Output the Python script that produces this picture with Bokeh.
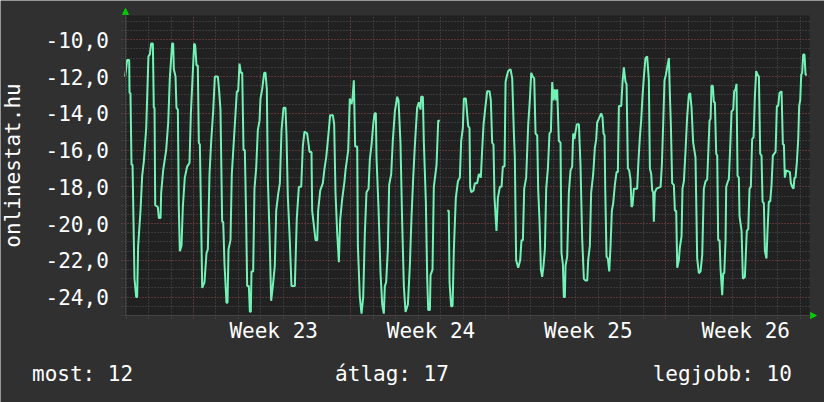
import math
from bokeh.plotting import figure
from bokeh.models import (Range1d, FixedTicker, Grid, Label, Arrow, NormalHead, BoxAnnotation)
from bokeh.core.properties import value
from bokeh.embed import file_html
from bokeh.resources import INLINE

# hours relative to the start of Week 23, and the measured value
hours = [
    -73.0, -70.8, -68.7, -68.3, -67.3, -66.2, -65.1, -63.0, -61.2, -60.2, -59.1, -56.6, -54.8, -53.0,
    -50.5, -48.1, -46.6, -45.2, -43.4, -42.4, -41.6, -40.9, -38.1, -37.0, -35.2, -34.5, -32.4, -29.2,
    -27.0, -25.3, -22.8, -21.7, -21.0, -19.2, -18.2, -16.7, -15.7, -14.6, -12.8, -11.4, -9.3, -6.8,
    -4.3, -2.8, 0.7, 1.8, 3.2, 4.6, 5.7, 6.8, 8.2, 9.3, 11.7, 13.9, 15.3, 17.1, 18.9, 21.0, 22.8,
    26.0, 27.4, 28.8, 30.6, 31.7, 33.1, 35.2, 36.3, 37.4, 39.5, 40.9,
    46.3, 47.7, 49.1, 50.5, 52.0, 53.4, 54.8, 56.2, 57.3, 59.1, 60.2, 61.2, 61.9, 63.7, 65.1, 66.9,
    68.7, 70.5, 71.5, 73.3, 75.5, 76.9, 78.3, 79.4, 81.2, 82.9, 84.7, 86.8, 88.3, 90.4, 92.2, 94.0,
    96.1, 98.2, 99.3, 100.7, 102.9, 104.6, 108.2, 110.3, 112.5, 115.0, 116.7, 118.5, 121.4, 123.9,
    126.0, 126.7, 128.5, 130.3, 132.1, 133.1, 135.3, 138.1, 139.9, 141.7, 143.8, 145.9, 148.8, 150.2,
    151.6, 153.4, 155.2, 156.6, 158.7, 161.2, 162.3, 165.2, 166.9, 168.7,
    169.8, 171.2, 172.6, 174.8, 175.5, 177.6, 179.4, 181.2, 182.9, 184.7, 186.9, 188.3, 190.1, 191.9,
    193.3, 194.7, 195.4, 197.5, 199.7, 201.5, 203.2, 204.3, 205.7, 207.5, 208.9, 211.1, 212.8, 215.0,
    217.5, 218.9, 221.0, 222.8, 224.6, 226.4, 228.9, 231.0, 232.8, 234.6, 236.3, 238.8, 240.6, 242.4,
    243.1, 244.9, 245.9, 248.1, 249.5, 250.6, 252.4, 253.1, 255.2, 256.6, 259.5, 261.3, 263.0,
    266.0,
    270.9, 272.6, 273.4, 275.1, 276.6, 278.0, 280.1, 282.3, 284.4, 285.8, 287.6, 288.7, 290.8,
    293.3, 294.7, 295.4, 296.5, 299.0, 300.4, 302.9, 304.7, 306.8, 308.2, 309.7, 311.8, 313.6, 316.1,
    317.5, 318.9, 320.3, 321.4, 323.5, 325.0, 327.1, 328.9, 330.3, 332.1, 333.2, 334.9, 336.0, 338.5,
    340.3, 342.1, 343.1, 344.5, 346.7, 348.8, 350.2, 351.7, 353.1, 355.2, 357.4, 359.1, 360.6, 362.3,
    363.8, 365.2, 367.0, 368.0, 369.5, 370.9, 372.3, 373.7, 375.2, 376.6, 378.4, 380.1, 381.6, 383.0,
    384.4, 385.8, 387.3, 388.3, 390.1, 391.9, 392.9, 394.4, 395.4, 396.5, 397.2, 399.0, 400.8, 402.6,
    404.3, 405.4, 406.8, 407.9, 409.3, 411.5, 413.2, 415.0,
    416.8, 418.6, 420.4, 421.4, 423.2, 424.6, 426.8, 428.5, 430.0, 431.0, 432.8, 435.3, 436.7, 437.8,
    438.9, 439.6, 441.0, 442.4, 443.9, 445.3, 446.7, 448.1, 449.9, 451.7, 453.1, 454.2, 456.7, 458.1,
    459.5, 461.3, 462.4, 463.8, 465.2, 466.6, 467.7, 468.8, 470.2, 473.7, 475.2, 476.6, 478.0, 479.4,
    480.9, 482.6, 484.4, 486.2, 487.3, 488.7, 489.8, 490.8, 491.5, 492.6, 494.4, 498.7, 500.1, 501.5,
    502.9, 504.4, 505.8, 507.6, 508.6, 509.7, 511.1, 512.9, 514.0, 515.4, 516.5, 518.2, 519.3, 521.1,
    522.1, 523.6, 525.4, 527.1, 528.9, 530.3, 531.8, 533.5, 536.0, 537.8, 539.6,
    541.4, 543.2, 544.9, 546.7, 548.5, 549.6, 551.0, 552.1, 553.1, 554.5, 555.6, 556.7, 558.1, 559.2,
    560.2, 561.7, 562.7, 564.5, 565.6, 566.7, 568.1, 568.8, 570.6, 571.6, 573.1, 574.5, 576.3, 577.3,
    578.7, 579.8, 580.9, 582.3, 583.0, 585.2, 586.6, 588.7, 589.4, 590.8, 592.3, 593.7, 595.1, 596.5,
    598.0, 599.4, 600.8, 602.2, 603.7, 605.1, 606.5, 607.6, 609.0, 610.1, 611.8, 612.9, 614.3, 615.8,
    617.2, 618.6, 621.5, 622.9, 624.3, 625.7, 627.9, 629.3, 630.4, 631.4, 632.9, 636.8, 637.8, 639.3,
    640.7, 641.7, 642.8, 644.2, 645.7, 646.7, 647.8, 648.9, 649.9, 651.0, 652.4, 653.5, 654.9,
]
values = [
    -12.0, -11.1, -11.1, -12.9, -12.9, -16.8, -16.8, -23.0, -24.0, -24.0, -21.2, -19.3, -17.4, -16.6,
    -14.8, -10.9, -10.8, -10.2, -10.2, -13.7, -13.7, -19.0, -19.1, -19.7, -19.7, -18.3, -17.1, -16.0,
    -14.5, -12.1, -10.2, -10.2, -11.6, -12.0, -13.7, -13.8, -19.1, -21.5, -21.2, -19.1, -17.5, -16.9,
    -16.7, -14.0, -10.2, -10.3, -11.4, -11.4, -15.6, -15.7, -20.0, -23.5, -23.2, -21.6, -21.4, -17.3,
    -15.5, -13.9, -12.0, -12.0, -12.8, -13.8, -19.9, -19.9, -22.2, -24.3, -24.3, -21.4, -20.9, -17.3,
    -12.8, -12.8, -11.3, -11.8, -11.8, -16.0, -16.0, -19.7, -23.4, -23.4, -24.8, -24.8, -22.6, -22.6,
    -18.1, -17.0, -14.9, -14.4, -13.2, -12.7, -11.8, -11.8, -12.7, -17.6, -20.6, -24.2, -23.4, -22.3,
    -19.3, -18.4, -17.8, -14.9, -13.7, -13.7, -15.2, -18.5, -21.0, -23.4, -23.4, -19.7, -18.0, -18.0,
    -15.8, -15.0, -15.1, -16.1, -16.1, -19.3, -20.1, -20.9, -20.9, -19.3, -18.2, -17.8, -17.0, -16.4,
    -15.3, -14.1, -14.1, -14.6, -18.3, -20.5, -22.1, -19.8, -18.7, -17.7, -17.1, -16.0, -13.2, -13.5,
    -13.2, -12.2, -15.8, -15.8, -21.2, -24.0, -24.9, -24.0, -20.6, -18.3, -18.1, -16.5, -15.7, -14.6,
    -14.0, -14.0, -16.4, -19.1, -22.7, -24.4, -24.9, -23.4, -23.2, -21.4, -17.9, -17.3, -15.5, -13.9,
    -13.1, -13.3, -15.6, -19.9, -23.4, -24.8, -24.4, -22.3, -19.6, -17.5, -15.8, -13.7, -13.4, -13.8,
    -13.1, -13.1, -15.5, -18.8, -22.9, -24.7, -24.7, -22.8, -22.5, -18.0, -16.8, -14.4, -14.4,
    float("nan"),
    -19.3, -19.3, -23.2, -24.5, -24.5, -21.4, -18.6, -17.7, -17.5, -15.5, -14.8, -13.2, -13.2,
    -14.7, -14.8, -18.0, -18.3, -18.2, -17.8, -17.8, -17.3, -17.5, -16.0, -14.6, -13.6, -12.8, -12.8,
    -13.3, -15.6, -15.7, -18.6, -20.4, -18.6, -18.0, -18.0, -16.9, -16.9, -12.3, -11.9, -11.7, -11.6,
    -12.1, -15.1, -16.4, -22.0, -22.4, -22.0, -20.9, -20.9, -18.1, -17.5, -14.6, -13.3, -11.8, -12.0,
    -12.1, -15.1, -15.2, -18.1, -19.9, -22.5, -22.9, -22.3, -21.4, -18.1, -17.0, -15.1, -15.0, -12.3,
    -13.3, -12.7, -13.3, -12.7, -15.5, -15.6, -21.6, -22.2, -24.0, -24.0, -22.3, -21.8, -18.3, -17.1,
    -16.9, -15.1, -15.4, -15.0, -14.6, -14.6, -16.8, -20.8,
    -23.0, -23.1, -23.1, -22.0, -21.2, -18.3, -17.3, -15.9, -15.4, -14.5, -14.3, -14.0, -14.2, -15.1,
    -15.2, -18.0, -21.8, -21.9, -22.6, -21.2, -19.3, -18.9, -17.9, -17.2, -17.2, -13.6, -13.6, -12.3,
    -11.5, -12.3, -12.4, -17.0, -17.1, -17.6, -19.1, -19.0, -18.1, -18.1, -16.5, -15.3, -14.4, -13.1,
    -12.0, -11.0, -10.9, -12.2, -17.0, -17.3, -18.2, -18.3, -19.9, -18.3, -18.1, -18.0, -16.8, -14.6,
    -12.2, -11.9, -11.5, -11.0, -12.9, -14.6, -17.8, -17.9, -19.3, -19.3, -22.4, -22.0, -21.3, -20.7,
    -18.1, -17.7, -16.0, -14.2, -13.0, -12.9, -13.7, -15.6, -16.4, -21.9, -22.7,
    -22.6, -21.7, -18.1, -17.7, -17.6, -16.2, -14.4, -14.3, -12.5, -12.5, -13.4, -13.4, -16.2, -16.3,
    -20.9, -20.9, -22.4, -23.9, -22.7, -22.7, -20.9, -18.0, -17.7, -17.6, -15.8, -13.9, -13.8, -12.8,
    -12.7, -12.4, -17.4, -17.5, -19.6, -20.4, -23.0, -22.9, -22.1, -20.4, -20.3, -18.1, -18.0, -15.4,
    -15.3, -13.1, -11.7, -11.9, -12.0, -16.2, -16.3, -18.8, -18.9, -21.5, -21.9, -20.4, -18.8, -18.8,
    -17.9, -16.3, -16.1, -13.6, -13.6, -12.9, -12.8, -15.7, -15.7, -17.5, -17.1, -17.2, -17.8, -18.0,
    -18.1, -17.5, -17.5, -16.7, -15.4, -13.6, -13.3, -11.9, -11.8, -10.8, -10.8, -11.9, -11.9,
]

y_ticks = [-24, -22, -20, -18, -16, -14, -12, -10]
y_tick_labels = ["-24,0", "-22,0", "-20,0", "-18,0", "-16,0", "-14,0", "-12,0", "-10,0"]
week_ticks = [84, 252, 420, 588]          # middle of each week (hours)
week_labels = ["Week 23", "Week 24", "Week 25", "Week 26"]
week_starts = [0, 168, 336, 504]
day_lines = [-72 + 24 * k for k in range(31)]
half_lines = [-25 + 0.5 * k for k in range(33)]

axis_title = "onlinestat.hu"
legend_texts = ["most: 12", "átlag: 17", "legjobb: 10"]

FONT = "DejaVu Sans Mono"
BG = "#303030"
PLOT_BG = "#212121"
MINOR = "#555555"
MAJOR = "#7a3333"
LINE = "#72f2b6"
ARROW = "#00cc00"

# plot area in data units, and where it sits on the 824 x 402 canvas
X0, X1 = -73.68, 657.73          # hours, canvas x 124 .. 809
Y0, Y1 = -25.0, -8.68            # values, canvas y 315 .. 15
XPX = (X1 - X0) / (809 - 124)    # hours per pixel
YPX = (315 - 15) / (Y1 - Y0)     # pixels per unit


def hx(px):
    """data x at canvas pixel column px"""
    return X0 + (px - 124) * XPX


def vy(py):
    """data y at canvas pixel row py"""
    return Y1 - (py - 15) / YPX


p = figure(width=824, height=402, output_backend="svg", toolbar_location=None,
           x_range=Range1d(hx(0), hx(824)), y_range=Range1d(vy(402), vy(0)),
           x_axis_type=None, y_axis_type=None, min_border=0)
p.title.visible = False
p.background_fill_color = BG
p.border_fill_color = BG
p.outline_line_color = None

# dark plot area
p.add_layout(BoxAnnotation(left=X0, right=X1, bottom=Y0, top=Y1, fill_color=PLOT_BG,
                           fill_alpha=1.0, line_color=None, level="image"))

# grids, limited to the plot area
xgrid = Grid(dimension=0, ticker=FixedTicker(ticks=week_starts, minor_ticks=day_lines),
             bounds=(X0, X1))
ygrid = Grid(dimension=1, ticker=FixedTicker(ticks=y_ticks, minor_ticks=half_lines),
             bounds=(Y0, Y1))
for g in (xgrid, ygrid):
    g.grid_line_color = MAJOR
    g.grid_line_dash = "1 2"
    g.minor_grid_line_color = MINOR
    g.minor_grid_line_dash = "1 2"
try:
    xgrid.cross_bounds = (Y0 - 3 / YPX, Y1)
    ygrid.cross_bounds = (X0 - 3 * XPX, X1 + 2 * XPX)
    p.add_layout(xgrid)
    p.add_layout(ygrid)
except AttributeError:
    p.segment(x0=day_lines, y0=[Y0] * len(day_lines), x1=day_lines, y1=[Y1] * len(day_lines),
              line_color=MINOR, line_dash="1 2", level="underlay")
    p.segment(x0=[X0] * len(half_lines), y0=half_lines, x1=[X1] * len(half_lines), y1=half_lines,
              line_color=MINOR, line_dash="1 2", level="underlay")
    p.segment(x0=week_starts, y0=[Y0] * 4, x1=week_starts, y1=[Y1] * 4,
              line_color=MAJOR, line_dash="1 2", level="underlay")
    p.segment(x0=[X0] * len(y_ticks), y0=y_ticks, x1=[X1] * len(y_ticks), y1=y_ticks,
              line_color=MAJOR, line_dash="1 2", level="underlay")

# axis lines with green arrow heads
p.add_layout(Arrow(end=NormalHead(size=6, fill_color=ARROW, line_color=ARROW),
                   x_start=X0 + XPX, y_start=Y0, x_end=X0 + XPX, y_end=vy(8),
                   line_color="#454545", line_width=1))
p.add_layout(Arrow(end=NormalHead(size=6, fill_color=ARROW, line_color=ARROW),
                   x_start=X0, y_start=Y0, x_end=hx(816), y_end=Y0,
                   line_color="#454545", line_width=1))

# data line
p.line(hours, values, line_color=LINE, line_width=2)

# y tick labels (right aligned left of the plot area)
p.text(x=[hx(108.3)] * len(y_ticks), y=y_ticks, text=y_tick_labels, y_offset=0,
       text_align="right", text_baseline="middle", text_font=value(FONT),
       text_font_size=value("21px"), text_color="white")

# week labels under the plot area
p.text(x=week_ticks, y=[Y0] * len(week_ticks), text=week_labels, x_offset=1.5, y_offset=15.5,
       text_align="center", text_baseline="middle", text_font=value(FONT),
       text_font_size=value("21px"), text_color="white")

# vertical axis title
p.add_layout(Label(x=hx(12), y=vy(165), text=axis_title, angle=math.pi / 2,
                   text_align="center", text_baseline="middle", text_font=FONT,
                   text_font_size="21px", text_color="white"))

# bottom summary row
for txt, px, align in zip(legend_texts, [31.5, 391.5, 791.3], ["left", "center", "right"]):
    p.add_layout(Label(x=hx(px), y=vy(373.5), text=txt, text_align=align,
                       text_baseline="middle", text_font=FONT, text_font_size="21px",
                       text_color="white"))

open("out.html", "w").write(file_html(p, INLINE))
